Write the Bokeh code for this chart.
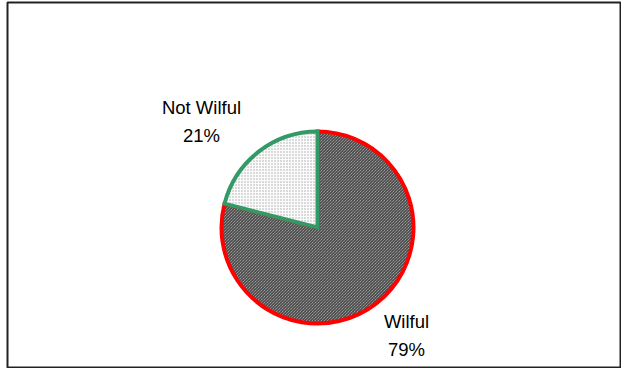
import math
from bokeh.plotting import figure
from bokeh.models import Range1d, ColumnDataSource
from bokeh.core.properties import value
from bokeh.embed import file_html
from bokeh.resources import INLINE

categories = ["Wilful", "Not Wilful"]
shares = [79, 21]
pct_labels = ["79%", "21%"]
line_colors = ["#ff0000", "#339966"]
fill_colors = ["#bdbdbd", "#fbfbfb"]
hatch_patterns = ["\\", "."]
hatch_colors = ["#2e2e2e", "#a8a8a8"]

FW, FH = 614, 366
p = figure(width=FW + 7, height=FH + 2, output_backend="svg", toolbar_location=None,
           x_range=Range1d(0, FW), y_range=Range1d(0, FH),
           min_border_left=7, min_border_top=2, min_border_right=0, min_border_bottom=0,
           background_fill_color="white", border_fill_color="white",
           outline_line_color="#222222", outline_line_width=2)
p.axis.visible = False
p.grid.visible = False

# frame-relative pixel positions (y measured from top)
cx, cy_top, r = 310, 225, 96
cy = FH - cy_top

total = sum(shares)
# Wilful goes clockwise from 12 o'clock; Not Wilful counterclockwise from 12 o'clock
w_span = 2 * math.pi * shares[0] / total
n_span = 2 * math.pi * shares[1] / total
starts = [math.pi / 2 - w_span, math.pi / 2]
ends = [math.pi / 2, math.pi / 2 + n_span]

src = ColumnDataSource(dict(cat=categories, start=starts, end=ends,
                            lc=line_colors, fc=fill_colors, hp=hatch_patterns, hc=hatch_colors))
p.wedge(x=cx, y=cy, radius=r, radius_units="screen", start_angle="start", end_angle="end",
        source=src, fill_color="fc", line_color="lc", line_width=4,
        hatch_pattern="hp", hatch_color="hc", hatch_scale=3, hatch_weight=1,
        line_join="miter")

# labels (frame-relative, y from top)
label_pos = {"Wilful": (399, 319), "Not Wilful": (194, 105)}
for c, pl in zip(categories, pct_labels):
    lx, ly = label_pos[c]
    p.text(x=[lx], y=[FH - ly], text=[c], text_align="center", text_baseline="middle",
           text_font=value("Liberation Sans"), text_font_size="18.5px", text_color="black")
    p.text(x=[lx], y=[FH - ly - 28], text=[pl], text_align="center", text_baseline="middle",
           text_font=value("Liberation Sans"), text_font_size="18.5px", text_color="black")

open("out.html", "w").write(file_html(p, INLINE))
